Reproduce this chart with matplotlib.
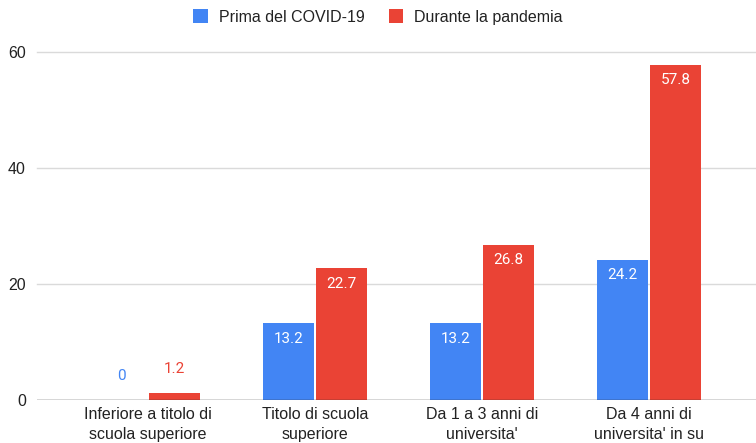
import matplotlib
matplotlib.use("Agg")
import matplotlib.pyplot as plt
import numpy as np

plt.rcParams['font.family'] = ['Liberation Sans', 'DejaVu Sans']

categories = ["Inferiore a titolo di\nscuola superiore", "Titolo di scuola\nsuperiore",
              "Da 1 a 3 anni di\nuniversita'", "Da 4 anni di\nuniversita' in su"]
series_names = ["Prima del COVID-19", "Durante la pandemia"]
prima = [0, 13.2, 13.2, 24.2]
durante = [1.2, 22.7, 26.8, 57.8]
yticks = [0, 20, 40, 60]

BLUE = "#4285F4"
RED = "#EA4335"

fig = plt.figure(figsize=(7.56, 4.43), dpi=100)
ax = fig.add_axes([37/756, 43/443, 1 - 37/756, (400-52)/443])

x = np.arange(len(categories))
w = 0.305
off = 0.159
b1 = ax.bar(x - off, prima, w, color=BLUE, label=series_names[0], zorder=3)
b2 = ax.bar(x + off, durante, w, color=RED, label=series_names[1], zorder=3)

ax.set_xlim(-0.665, 3.64)
ax.set_ylim(0, 60)
ax.set_yticks(yticks)
ax.set_yticklabels([str(t) for t in yticks])
for t in yticks[1:]:
    ax.axhline(t, color='#dadada', linewidth=1, zorder=0, clip_on=False)
ax.axhline(0, color='#333333', linewidth=1, zorder=4)
for s in ax.spines.values():
    s.set_visible(False)
ax.tick_params(axis='y', length=0, pad=8, labelsize=11.5, labelcolor='#222222')
ax.tick_params(axis='x', length=0, pad=5, labelsize=11.5, labelcolor='#222222')
ax.set_xticks(x)
ax.set_xticklabels(categories, linespacing=1.45, va='top')

def label(bars, vals, color):
    for bar, v in zip(bars, vals):
        cx = bar.get_x() + bar.get_width()/2
        txt = f"{v:g}"
        if v >= 10:
            ax.annotate(txt, (cx, v), xytext=(0, -11), textcoords='offset points',
                        ha='center', va='center', color='white', fontsize=11,
                        family=['Roboto', 'DejaVu Sans'], zorder=5)
        else:
            ax.annotate(txt, (cx, v), xytext=(0, 17), textcoords='offset points',
                        ha='center', va='center', color=color, fontsize=11,
                        family=['Roboto', 'DejaVu Sans'], zorder=5)

label(b1, prima, BLUE)
label(b2, durante, RED)

leg = fig.legend(handles=[b1, b2], labels=series_names, loc='center', bbox_to_anchor=(0.5, 1 - 17/443),
                 ncol=2, frameon=False, fontsize=11.5, handlelength=0.9, handleheight=1.0,
                 handletextpad=0.7, columnspacing=1.5)
for t in leg.get_texts():
    t.set_color('#222222')

fig.savefig("out.png", dpi=100)
